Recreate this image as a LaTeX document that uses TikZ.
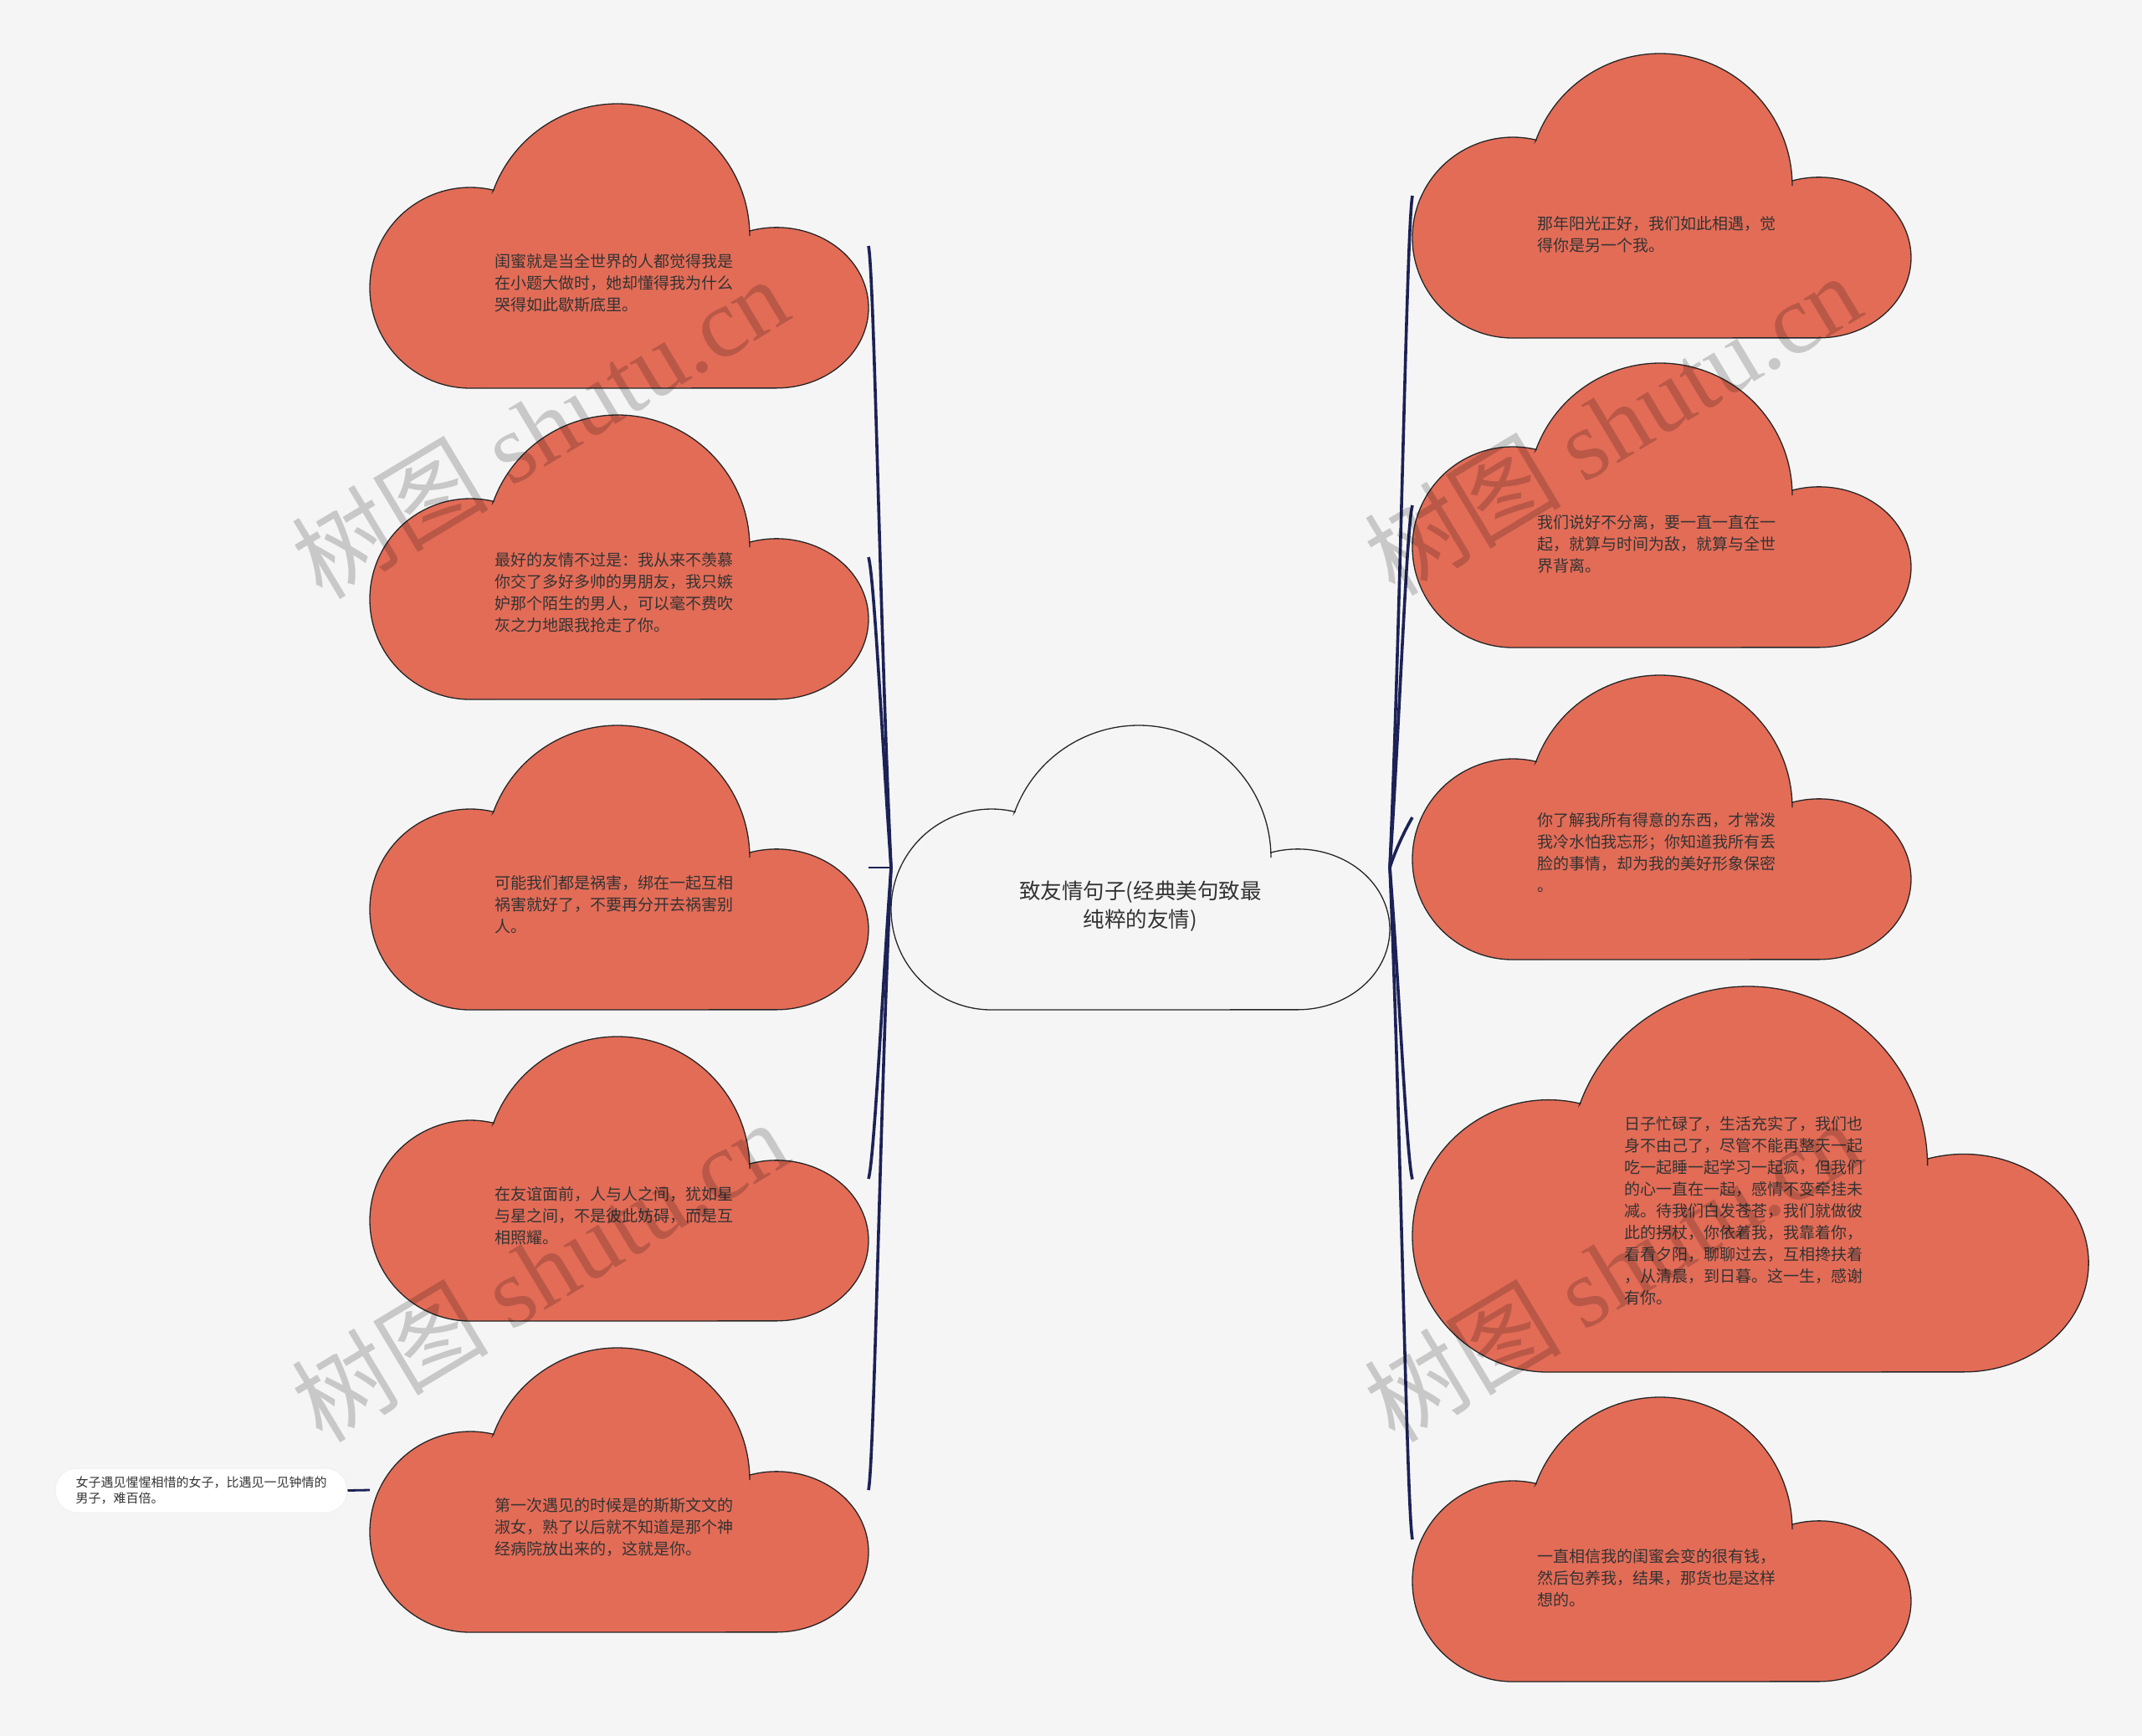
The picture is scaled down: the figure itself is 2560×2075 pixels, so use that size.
\documentclass[tikz,border=0pt]{standalone}
\usepackage{fontspec}
\setmainfont{Noto Sans CJK SC}
\newfontfamily\wmfont{Liberation Serif}
\usetikzlibrary{calc}
\definecolor{bgc}{HTML}{F5F5F5}
\definecolor{cloudred}{HTML}{E36C57}
\definecolor{navy}{HTML}{1C2256}
\definecolor{txt}{HTML}{333333}
\tikzset{
  cloudline/.style={draw=black!85, line width=1.3pt},
  bbox/.style={draw=none, inner sep=0pt, outer sep=0pt},
  ctext/.style={text=txt, font=\fontsize{19}{26}\selectfont, text width=290pt, align=left, inner sep=0pt},
  maintext/.style={text=txt, font=\fontsize{25.5}{34}\selectfont, align=center, inner sep=0pt},
  conn/.style={draw=navy, line width=3.6pt},
  thinconn/.style={draw=navy, line width=1.8pt},
  pill/.style={draw=black!6, line width=1pt, fill=white, rounded corners=26pt, minimum width=349pt, minimum height=53pt, inner sep=0pt, text=txt, font=\fontsize{15}{19}\selectfont, text width=300pt, align=left},
  wm/.style={text=black, text opacity=0.18, font=\fontsize{118}{128}\selectfont, inner sep=0pt}
}
\newcommand\mycloud[5]{%
  \begin{scope}[shift={(#2,{-#3-340*#4})}, scale=#4]
    \path[cloudline, fill=#5] (120,0) arc[start angle=270, end angle=76.5, radius=120]
      -- (147.5,236) arc[start angle=160, end angle=0, radius=158]
      -- (454,188) arc[start angle=106.9, end angle=-90, x radius=110, y radius=96] -- cycle;
  \end{scope}
  \node[bbox, minimum width={596*#4}, minimum height={340*#4}] (#1) at ({#2+298*#4},{-#3-170*#4}) {};
}
\begin{document}
\begin{tikzpicture}[x=1pt,y=1pt]
\useasboundingbox (0,0) rectangle (2560,-2075);
\fill[bgc] (0,0) rectangle (2560,-2075);

% clouds
\mycloud{C}{1065}{867}{1}{bgc}
\mycloud{L1}{442}{124}{1}{cloudred}
\mycloud{L2}{442}{496}{1}{cloudred}
\mycloud{L3}{442}{867}{1}{cloudred}
\mycloud{L4}{442}{1239}{1}{cloudred}
\mycloud{L5}{442}{1611}{1}{cloudred}
\mycloud{R1}{1688}{64}{1}{cloudred}
\mycloud{R2}{1688}{434}{1}{cloudred}
\mycloud{R3}{1688}{807}{1}{cloudred}
\mycloud{R4}{1688}{1179}{1.356}{cloudred}
\mycloud{R5}{1688}{1670}{1}{cloudred}

% child node
\node[pill] (K1) at (240.5,-1781.5) {女子遇见惺惺相惜的女子，比遇见一见钟情的\\男子，难百倍。};

% connectors
\draw[conn] (C.west) .. controls ($(C.west)+(-13,275)$) and ($(L1.east)+(7,-37)$) .. (L1.east);
\draw[conn] (C.west) .. controls ($(C.west)+(-10,138)$) and ($(L2.east)+(7,-25)$) .. (L2.east);
\draw[thinconn] (C.west) -- (L3.east);
\draw[conn] (C.west) .. controls ($(C.west)+(-10,-138)$) and ($(L4.east)+(7,25)$) .. (L4.east);
\draw[conn] (C.west) .. controls ($(C.west)+(-13,-275)$) and ($(L5.east)+(7,37)$) .. (L5.east);
\draw[conn] (C.east) .. controls ($(C.east)+(13,297)$) and ($(R1.west)+(-7,-40)$) .. (R1.west);
\draw[conn] (C.east) .. controls ($(C.east)+(11,160)$) and ($(R2.west)+(-7,-25)$) .. (R2.west);
\draw[conn] (C.east) .. controls ($(C.east)+(8,25)$) and ($(R3.west)+(-6,-10)$) .. (R3.west);
\draw[conn] (C.east) .. controls ($(C.east)+(11,-138)$) and ($(R4.west)+(-7,25)$) .. (R4.west);
\draw[conn] (C.east) .. controls ($(C.east)+(13,-297)$) and ($(R5.west)+(-7,40)$) .. (R5.west);
\draw[draw=navy, line width=2.8pt] (K1.east) -- (L5.west);

% texts
\node[maintext] (Ct) at ($(C)+(0,-46)$) {致友情句子(经典美句致最\\纯粹的友情)};
\node[ctext] (L1t) at ($(L1)+(-4,-44)$) {闺蜜就是当全世界的人都觉得我是\\在小题大做时，她却懂得我为什么\\哭得如此歇斯底里。};
\node[ctext] (L2t) at ($(L2)+(-4,-42)$) {最好的友情不过是：我从来不羡慕\\你交了多好多帅的男朋友，我只嫉\\妒那个陌生的男人，可以毫不费吹\\灰之力地跟我抢走了你。};
\node[ctext] (L3t) at ($(L3)+(-4,-44)$) {可能我们都是祸害，绑在一起互相\\祸害就好了，不要再分开去祸害别\\人。};
\node[ctext] (L4t) at ($(L4)+(-4,-44)$) {在友谊面前，人与人之间，犹如星\\与星之间，不是彼此妨碍，而是互\\相照耀。};
\node[ctext] (L5t) at ($(L5)+(-4,-44)$) {第一次遇见的时候是的斯斯文文的\\淑女，熟了以后就不知道是那个神\\经病院放出来的，这就是你。};
\node[ctext] (R1t) at ($(R1)+(-4,-46)$) {那年阳光正好，我们如此相遇，觉\\得你是另一个我。};
\node[ctext] (R2t) at ($(R2)+(-4,-46)$) {我们说好不分离，要一直一直在一\\起，就算与时间为敌，就算与全世\\界背离。};
\node[ctext] (R3t) at ($(R3)+(-4,-42)$) {你了解我所有得意的东西，才常泼\\我冷水怕我忘形；你知道我所有丢\\脸的事情，却为我的美好形象保密\\。};
\node[ctext] (R4t) at ($(R4)+(-5.5,-38)$) {日子忙碌了，生活充实了，我们也\\身不由己了，尽管不能再整天一起\\吃一起睡一起学习一起疯，但我们\\的心一直在一起，感情不变牵挂未\\减。待我们白发苍苍，我们就做彼\\此的拐杖，你依着我，我靠着你，\\看看夕阳，聊聊过去，互相搀扶着\\，从清晨，到日暮。这一生，感谢\\有你。};
\node[ctext] (R5t) at ($(R5)+(-4,-46)$) {一直相信我的闺蜜会变的很有钱，\\然后包养我，结果，那货也是这样\\想的。};

% watermarks
\node[wm, rotate=31] (w1) at (645,-510) {树图 {\wmfont shutu.cn}};
\node[wm, rotate=31] (w2) at (645,-1518) {树图 {\wmfont shutu.cn}};
\node[wm, rotate=31] (w3) at (1927,-506) {树图 {\wmfont shutu.cn}};
\node[wm, rotate=31] (w4) at (1927,-1518) {树图 {\wmfont shutu.cn}};
\end{tikzpicture}
\end{document}
